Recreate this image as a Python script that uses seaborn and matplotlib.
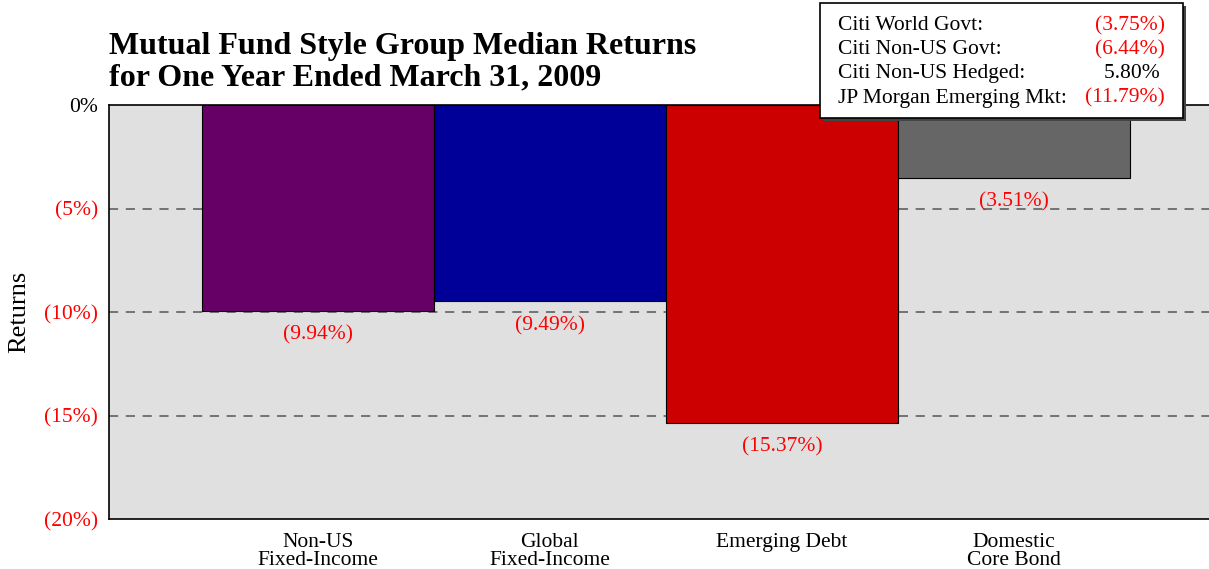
import matplotlib
matplotlib.use("Agg")
import matplotlib.pyplot as plt
import matplotlib.patches as mpatches
import seaborn as sns
import pandas as pd

# chart data
categories = ["Non-US\nFixed-Income", "Global\nFixed-Income", "Emerging Debt", "Domestic\nCore Bond"]
returns = [-9.94, -9.49, -15.37, -3.51]
bar_colors = ["#660066", "#000099", "#CC0000", "#666666"]

index_names = ["Citi World Govt:", "Citi Non-US Govt:", "Citi Non-US Hedged:", "JP Morgan Emerging Mkt:"]
index_returns = [-3.75, -6.44, 5.80, -11.79]

y_ticks = [0, -5, -10, -15, -20]


def fmt(v):
    return f"({abs(v):.2f}%)" if v < 0 else f"{v:.2f}%"


sns.set_theme(style="white")
plt.rcParams["font.family"] = ["Liberation Serif", "DejaVu Serif"]
plt.rcParams.update({"text.color": "black", "axes.labelcolor": "black",
                     "xtick.color": "black", "ytick.color": "black"})

df = pd.DataFrame({"category": categories, "ret": returns})

fig = plt.figure(figsize=(12.09, 5.69), dpi=100)
ax = fig.add_axes([109 / 1209, 1 - 519 / 569, 1 - 109 / 1209, (519 - 105) / 569])
ax.set_facecolor("#E0E0E0")

sns.barplot(data=df, x="category", y="ret", hue="category", palette=bar_colors, saturation=1,
            width=1.0, edgecolor="black", linewidth=0.8, legend=False, ax=ax, zorder=3)

ax.set_xlim(-0.9, 3.84)
ax.set_ylim(-20, 0)
ax.set_yticks(y_ticks)
ax.set_yticklabels(["0%" if t == 0 else f"({abs(t)}%)" for t in y_ticks], fontsize=15.5)
for lbl, t in zip(ax.get_yticklabels(), y_ticks):
    lbl.set_color("black" if t == 0 else "red")
ax.tick_params(axis="y", length=0, pad=8)
ax.tick_params(axis="x", length=0, labelsize=15.5, pad=10)
for lbl in ax.get_xticklabels():
    lbl.set_linespacing(0.92)
    lbl.set_color("black")

for t in [-5, -10, -15]:
    ax.axhline(t, color="#555555", linestyle=(0, (6, 5)), linewidth=1.1, zorder=1)

for i, v in enumerate(returns):
    ax.text(i, v - 0.7, fmt(v), ha="center", va="top", color="red", fontsize=15.5, zorder=4)

for side in ["left", "bottom", "top"]:
    ax.spines[side].set_visible(True)
    ax.spines[side].set_color("black")
    ax.spines[side].set_linewidth(1.2)
ax.spines["right"].set_visible(False)

ax.set_xlabel("")
ax.set_ylabel("Returns", fontsize=19, labelpad=10, color="black")

fig.text(109 / 1209, 1 - 62 / 569,
         "Mutual Fund Style Group Median Returns\nfor One Year Ended March 31, 2009",
         fontsize=23, fontweight="bold", ha="left", va="center", linespacing=1.1, color="black")

# index return box
x0, y0, x1, y1 = 820, 3, 1183, 118
shadow = mpatches.Rectangle((x0 / 1209 + 3 / 1209, 1 - (y1 + 3) / 569), (x1 - x0) / 1209, (y1 - y0) / 569,
                            transform=fig.transFigure, facecolor="#444444", edgecolor="none", zorder=5)
box = mpatches.Rectangle((x0 / 1209, 1 - y1 / 569), (x1 - x0) / 1209, (y1 - y0) / 569,
                         transform=fig.transFigure, facecolor="white", edgecolor="black", linewidth=1.2, zorder=6)
fig.patches.extend([shadow, box])
for k, (name, val) in enumerate(zip(index_names, index_returns)):
    yy = 1 - (26 + k * 24) / 569
    fig.text(838 / 1209, yy, name, fontsize=15.5, ha="left", va="center", zorder=7, color="black")
    fig.text(1165 / 1209, yy, fmt(val) if val < 0 else fmt(val) + " ", fontsize=15.5, ha="right", va="center",
             color="red" if val < 0 else "black", zorder=7)

fig.savefig("out.png", dpi=100)
